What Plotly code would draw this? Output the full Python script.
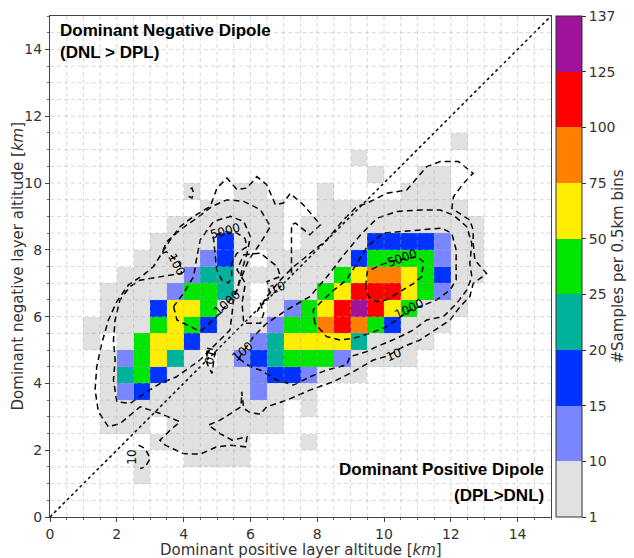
import plotly.graph_objects as go

# ---------------- data ----------------
bin_size = 0.5
n_bins = 30
x_centers = [bin_size * i + bin_size / 2 for i in range(n_bins)]
y_centers = [bin_size * j + bin_size / 2 for j in range(n_bins)]

# sample counts per 0.5 km bin; key = row index j (y from 0.5*j), value = {column i: count}
counts_by_row = {
    22: {24: 3},
    21: {18: 2},
    20: {19: 3, 22: 2, 23: 3},
    19: {8: 2, 11: 2, 12: 3, 16: 3, 21: 2, 22: 4, 23: 3},
    18: {9: 3, 10: 4, 11: 3, 12: 2, 13: 3, 16: 3, 17: 4, 18: 5, 19: 5, 20: 6, 21: 5, 22: 4, 23: 3, 24: 2},
    17: {7: 2, 8: 3, 9: 4, 10: 5, 11: 4, 12: 3, 13: 2, 15: 3, 16: 4, 17: 5, 18: 6, 19: 7, 20: 8,
         21: 7, 22: 6, 23: 5, 24: 4, 25: 2},
    16: {6: 2, 7: 4, 8: 6, 9: 8, 10: 17, 11: 6, 12: 4, 13: 2, 15: 3, 16: 5, 17: 7, 18: 9,
         19: 18, 20: 19, 21: 18, 22: 16, 23: 12, 24: 6, 25: 3},
    15: {5: 3, 6: 5, 7: 7, 8: 9, 9: 13, 10: 18, 11: 6, 13: 2, 14: 3, 15: 5, 16: 7, 17: 9,
         18: 17, 19: 30, 20: 40, 21: 35, 22: 30, 23: 11, 24: 5, 25: 2},
    14: {4: 2, 5: 4, 6: 6, 7: 8, 8: 12, 9: 22, 10: 23, 11: 5, 12: 2, 13: 3, 14: 4, 15: 6, 16: 9,
         17: 40, 18: 60, 19: 90, 20: 90, 21: 60, 22: 40, 23: 18, 24: 7, 25: 3},
    13: {3: 2, 4: 4, 5: 6, 6: 8, 7: 13, 8: 35, 9: 35, 10: 22, 11: 4, 13: 3, 14: 6, 15: 9,
         16: 40, 17: 60, 18: 110, 19: 115, 20: 110, 21: 60, 22: 35, 23: 12, 24: 5},
    12: {3: 2, 4: 5, 5: 8, 6: 17, 7: 60, 8: 60, 9: 35, 10: 7, 11: 3, 13: 5, 14: 12, 15: 35,
         16: 60, 17: 110, 18: 137, 19: 110, 20: 60, 21: 35, 22: 8, 23: 5, 24: 2},
    11: {2: 2, 3: 3, 4: 5, 5: 8, 6: 35, 7: 60, 8: 35, 9: 17, 10: 6, 11: 4, 12: 6, 13: 12,
         14: 35, 15: 35, 16: 85, 17: 110, 18: 85, 19: 35, 20: 17, 21: 7, 22: 4, 23: 2},
    10: {2: 2, 4: 6, 5: 35, 6: 60, 7: 60, 8: 17, 9: 7, 10: 5, 11: 6, 12: 12, 13: 22, 14: 60,
         15: 60, 16: 60, 17: 60, 18: 22, 19: 8, 20: 5, 21: 3, 22: 2},
    9: {3: 3, 4: 12, 5: 35, 6: 60, 7: 22, 8: 6, 10: 5, 11: 12, 12: 17, 13: 22, 14: 35, 15: 35,
        16: 35, 17: 12, 18: 7, 19: 4, 20: 3, 21: 2},
    8: {3: 3, 4: 22, 5: 35, 6: 17, 7: 7, 8: 6, 9: 5, 10: 5, 11: 7, 12: 12, 13: 17, 14: 17,
        15: 12, 16: 6, 17: 4, 18: 2},
    7: {3: 3, 4: 12, 5: 17, 6: 6, 7: 5, 8: 4, 9: 4, 10: 5, 11: 7, 12: 12, 13: 6, 14: 4, 15: 2},
    6: {3: 2, 4: 3, 5: 4, 6: 4, 7: 3, 8: 3, 9: 3, 10: 4, 11: 5, 12: 4, 13: 3, 15: 2},
    5: {3: 2, 4: 3, 5: 3, 7: 3, 8: 3, 9: 2, 10: 3, 11: 3, 12: 3, 13: 2},
    4: {6: 2, 7: 3, 8: 3, 9: 3, 10: 2, 11: 2, 15: 2},
    3: {5: 2, 8: 2, 9: 2, 10: 2, 11: 2},
    2: {5: 2},
}

cbar_bounds = [1, 10, 15, 20, 25, 50, 75, 100, 125, 137]
cbar_labels = ["1", "10", "15", "20", "25", "50", "75", "100", "125", "137"]
cbar_colors = ["#e1e1e1", "#7a86ff", "#0033ff", "#00b29c", "#00e600",
               "#ffee00", "#ff8000", "#ff0000", "#a1139b"]

# density contours (km, km), levels 10/100/1000/5000
c10_main = [(7.23, 7.3), (7.23, 8.75), (7.35, 8.8), (7.78, 8.45), (8.1, 8.75), (7.58, 9.35),
            (7.19, 9.69), (6.99, 9.4), (6.75, 9.35), (6.49, 9.95), (6.19, 10.19), (5.9, 9.85),
            (5.6, 9.8), (5.3, 10.15), (5.0, 9.85), (4.8, 9.3), (4.3, 9.0), (3.9, 8.7), (3.6, 8.3),
            (3.35, 7.9), (3.1, 7.5), (2.8, 7.25), (2.35, 6.95), (2.0, 6.45), (1.75, 5.9),
            (1.55, 5.2), (1.4, 4.5), (1.35, 3.8), (1.45, 3.15), (1.75, 2.7), (2.1, 2.8),
            (2.7, 3.3), (3.3, 3.1), (3.89, 2.85), (3.6, 2.6), (3.29, 2.3), (3.45, 2.15),
            (3.99, 1.9), (4.49, 1.88), (4.99, 2.1), (5.4, 2.15), (5.85, 2.1), (5.9, 2.4),
            (5.45, 2.3), (5.09, 2.5), (4.74, 2.75), (5.09, 2.9), (5.49, 3.15), (5.72, 3.3),
            (5.74, 3.75), (5.8, 3.25), (6.0, 3.12), (6.3, 3.08), (6.49, 3.3), (7.09, 3.5),
            (7.78, 3.8), (8.48, 4.05), (9.08, 4.35), (9.68, 4.7), (10.1, 4.82), (10.58, 5.1),
            (11.08, 5.3), (11.68, 5.7), (11.98, 5.9), (12.28, 6.3), (12.57, 6.6), (12.67, 6.99),
            (13.07, 7.29), (12.72, 7.69), (12.67, 8.19), (12.67, 8.59), (12.57, 8.89),
            (12.03, 9.24), (12.08, 9.59), (12.38, 9.99), (12.67, 10.29), (12.23, 10.64),
            (11.68, 10.64), (11.28, 10.49), (10.68, 9.79), (10.08, 9.69), (9.48, 9.39),
            (9.18, 9.29), (8.78, 8.89), (8.28, 8.29), (7.78, 7.89), (7.29, 7.49), (6.89, 7.09),
            (6.49, 6.6), (6.2, 6.15)]
c10_hole_a = [(5.8, 7.85), (6.3, 7.9), (6.8, 7.5), (6.9, 7.2), (6.5, 7.05), (6.6, 6.6),
              (6.3, 6.4), (6.4, 6.1), (6.3, 5.8), (5.8, 5.8), (5.75, 6.4), (5.85, 7.0),
              (5.6, 7.4), (5.8, 7.85)]
c10_hole_b = [(4.7, 5.05), (4.95, 5.0), (4.85, 4.3), (4.7, 4.6), (4.7, 5.05)]
c10_dot = [(4.15, 9.6), (4.25, 9.55), (4.3, 9.7), (4.25, 9.85), (4.15, 9.8)]
c10_low = [(2.65, 2.15), (2.85, 2.05), (3.0, 1.75), (2.85, 1.5), (2.7, 1.45)]
c100_left = [(2.0, 3.45), (1.9, 4.1), (1.95, 4.7), (1.9, 5.3), (1.95, 5.9), (2.09, 6.49),
             (2.39, 6.89), (2.69, 7.09), (3.59, 7.24), (3.94, 7.29), (3.89, 7.59), (3.49, 7.94),
             (3.34, 7.89), (3.5, 8.25), (3.9, 8.6), (4.4, 8.95), (4.85, 9.3), (5.3, 9.5),
             (5.8, 9.45), (6.3, 9.2), (6.6, 8.7), (6.3, 8.2), (5.95, 7.7), (5.7, 7.1), (5.5, 6.5),
             (5.39, 5.6), (5.09, 5.3), (4.49, 4.7), (3.79, 4.2), (3.3, 4.0), (2.9, 3.75),
             (2.4, 3.4), (2.0, 3.45)]
c100_right = [(5.65, 4.75), (6.09, 5.4), (6.49, 5.8), (7.09, 6.2), (7.78, 6.6), (8.3, 7.2),
              (8.8, 7.85), (9.3, 8.45), (9.8, 8.95), (10.4, 9.15), (11.08, 9.19), (11.68, 9.19),
              (12.08, 9.04), (12.48, 8.69), (12.63, 8.19), (12.57, 7.59), (12.63, 7.19),
              (12.48, 6.8), (12.18, 6.4), (11.78, 6.0), (11.28, 5.9), (10.88, 5.6), (10.38, 5.35),
              (9.78, 5.1), (9.48, 4.95), (8.98, 4.8), (8.88, 4.55), (8.28, 4.4), (7.79, 4.2),
              (7.29, 3.95), (6.79, 4.1), (6.29, 4.4), (5.99, 4.5), (5.65, 4.75)]
c1000_left = [(3.7, 6.3), (3.8, 5.9), (4.2, 5.7), (4.5, 5.55), (4.99, 6.0), (5.25, 6.3),
              (5.6, 6.8), (5.75, 7.4), (5.9, 7.9), (6.0, 8.4), (5.8, 8.85), (5.4, 9.0),
              (4.9, 8.85), (4.5, 8.3), (4.4, 7.8), (4.3, 7.2), (4.0, 6.7), (3.7, 6.3)]
c1000_right = [(7.93, 5.8), (7.88, 6.2), (8.18, 6.5), (8.48, 6.78), (8.88, 7.1), (9.2, 7.6),
               (9.5, 8.1), (9.98, 8.5), (10.5, 8.55), (11.08, 8.59), (11.73, 8.65), (12.03, 8.49),
               (12.16, 8.0), (12.16, 7.1), (11.98, 6.8), (11.58, 6.5), (11.08, 6.3), (10.7, 6.15),
               (10.38, 5.9), (10.08, 5.7), (9.58, 5.5), (9.08, 5.35), (8.68, 5.3), (8.28, 5.4),
               (7.93, 5.8)]
c5000_left = [(4.89, 8.4), (4.94, 7.89), (4.99, 7.4), (5.14, 7.1), (5.34, 7.0), (5.44, 7.2),
              (5.44, 7.6), (5.59, 7.89), (5.89, 8.09), (5.84, 8.34), (5.6, 8.5), (5.2, 8.55),
              (4.89, 8.4)]
c5000_right = [(9.45, 6.9), (9.5, 7.35), (9.9, 7.55), (10.2, 7.65), (10.98, 7.79), (11.18, 7.65),
               (11.13, 7.2), (10.88, 6.99), (10.48, 6.75), (10.08, 6.5), (9.78, 6.45), (9.53, 6.6),
               (9.45, 6.9)]
contour_lines = [c10_main, c10_hole_a, c10_hole_b, c10_dot, c10_low, c100_left, c100_right,
                 c1000_left, c1000_right, c5000_left, c5000_right]

# contour labels: (text, x, y, angle)
contour_labels = [("5000", 5.25, 8.55, -15), ("1000", 5.3, 6.4, -42), ("100", 3.8, 7.55, 62),
                  ("5000", 10.55, 7.74, -20), ("1000", 10.75, 6.22, -25), ("100", 5.75, 4.95, -40),
                  ("10", 10.28, 4.86, -22), ("10", 6.8, 6.85, -20), ("10", 4.8, 4.8, 105),
                  ("10", 2.45, 1.8, -90)]

# ---------------- figure ----------------
def level_of(c):
    if not c:
        return None
    for k in range(len(cbar_bounds) - 1):
        if c < cbar_bounds[k + 1]:
            return k + 0.5
    return len(cbar_bounds) - 1.5

z = []
for j in range(n_bins):
    row = counts_by_row.get(j, {})
    z.append([level_of(row.get(i, 0)) for i in range(n_bins)])

nlev = len(cbar_colors)
colorscale = []
for k, c in enumerate(cbar_colors):
    colorscale.append([k / nlev, c])
    colorscale.append([(k + 1) / nlev, c])

cbar_tickvals = [float(k) for k in range(nlev + 1)]

fig = go.Figure()
fig.add_trace(go.Heatmap(
    x=x_centers, y=y_centers, z=z, zmin=0, zmax=nlev, colorscale=colorscale,
    hoverongaps=False,
    colorbar=dict(
        tickmode="array", tickvals=cbar_tickvals, ticktext=cbar_labels,
        ticklabeloverflow="allow",
        thickness=26, thicknessmode="pixels", len=1.0, lenmode="fraction",
        y=0.5, yanchor="middle", x=1.01, xanchor="left", xpad=0, ypad=0,
        outlinecolor="#333333", outlinewidth=1,
        ticks="outside", ticklen=4, tickcolor="#333333",
        tickfont=dict(family="DejaVu Sans", size=14, color="#333333"),
        title=dict(text="#Samples per 0.5km bins", side="right",
                   font=dict(family="DejaVu Sans", size=15, color="#333333")),
    ),
))

for line in contour_lines:
    fig.add_trace(go.Scatter(
        x=[p[0] for p in line], y=[p[1] for p in line], mode="lines",
        line=dict(color="black", width=1.5, dash="6px,4px"),
        hoverinfo="skip", showlegend=False))

fig.add_trace(go.Scatter(x=[0, 15], y=[0, 15], mode="lines",
                         line=dict(color="black", width=1.5, dash="dot"),
                         hoverinfo="skip", showlegend=False))

for txt, lx, ly, ang in contour_labels:
    fig.add_annotation(x=lx, y=ly, xref="x", yref="y", text=txt, showarrow=False,
                       textangle=ang, font=dict(family="DejaVu Sans", size=12, color="black"))

fig.add_annotation(x=0.25, y=14.9, xref="x", yref="y", xanchor="left", yanchor="top",
                   align="left", showarrow=False,
                   text="<b>Dominant Negative Dipole</b><br><b>(DNL &gt; DPL)</b>",
                   font=dict(family="Liberation Sans", size=17, color="black"))
fig.add_annotation(x=14.85, y=1.42, xref="x", yref="y", xanchor="right", yanchor="middle",
                   showarrow=False, text="<b>Dominant Positive Dipole</b>",
                   font=dict(family="Liberation Sans", size=17, color="black"))
fig.add_annotation(x=14.85, y=0.63, xref="x", yref="y", xanchor="right", yanchor="middle",
                   showarrow=False, text="<b>(DPL&gt;DNL)</b>",
                   font=dict(family="Liberation Sans", size=17, color="black"))

# axis titles
fig.add_annotation(x=0.5, y=-0.0665, xref="paper", yref="paper", xanchor="center",
                   yanchor="middle", showarrow=False,
                   text="Dominant positive layer altitude [<i>km</i>]",
                   font=dict(family="DejaVu Sans", size=15, color="#333333"))
fig.add_annotation(x=-0.064, y=0.5, xref="paper", yref="paper", xanchor="center",
                   yanchor="middle", showarrow=False, textangle=-90,
                   text="Dominant negative layer altitude [<i>km</i>]",
                   font=dict(family="DejaVu Sans", size=15, color="#333333"))

# dashed grid every 0.5 km drawn above the cells (as in the reference)
grid_positions = [bin_size * k for k in range(1, n_bins)]
for g in grid_positions:
    fig.add_shape(type="line", xref="x", yref="y", x0=g, x1=g, y0=0, y1=15, layer="above",
                  line=dict(color="rgba(170,170,170,0.45)", width=1, dash="4px,3px"))
    fig.add_shape(type="line", xref="x", yref="y", x0=0, x1=15, y0=g, y1=g, layer="above",
                  line=dict(color="rgba(170,170,170,0.45)", width=1, dash="4px,3px"))

axis_common = dict(
    range=[0, 15], tick0=0, dtick=2, showgrid=False, zeroline=False,
    showline=True, linecolor="#444444", linewidth=1, mirror=True,
    ticks="outside", ticklen=4, tickcolor="#444444", automargin=False,
    tickfont=dict(family="DejaVu Sans", size=14, color="#333333"),
    minor=dict(dtick=0.5, tick0=0, showgrid=False, ticks="outside", ticklen=2,
               tickcolor="#666666"),
)
fig.update_xaxes(**axis_common)
fig.update_yaxes(**axis_common)

# the page adds an 8px body margin, so the figure is 8px smaller than the window
fig.update_layout(
    width=626, height=550,
    margin=dict(l=42, r=83, t=8, b=41, autoexpand=False),
    plot_bgcolor="white", paper_bgcolor="white", showlegend=False,
)

fig.write_html("out.html")
